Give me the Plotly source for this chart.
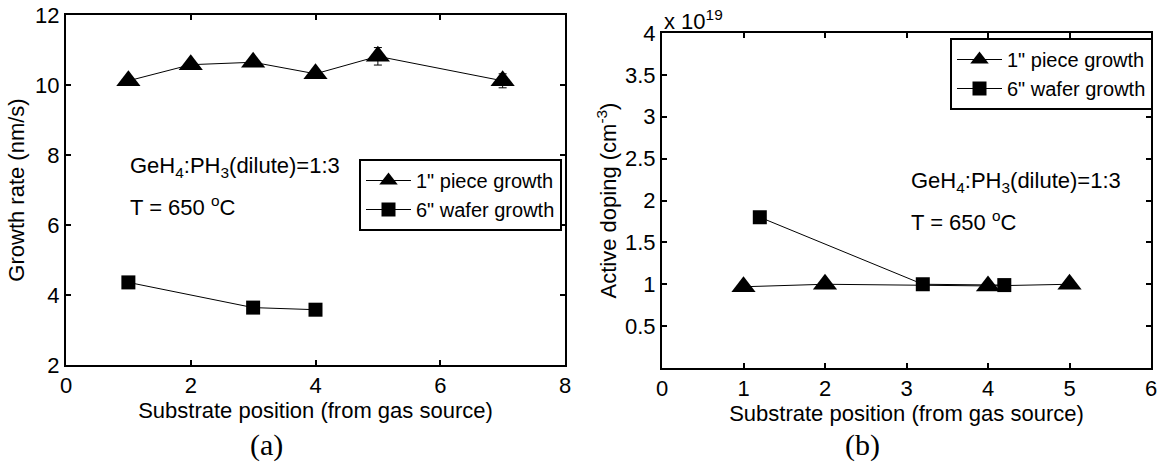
import plotly.graph_objects as go

# ---- data ----
# (a) growth rate (nm/s)
piece_pos_a = [1, 2, 3, 4, 5, 7]
piece_rate_a = [10.12, 10.58, 10.65, 10.32, 10.82, 10.12]
piece_rate_err_a = [0.0, 0.0, 0.0, 0.0, 0.25, 0.2]
wafer_pos_a = [1, 3, 4]
wafer_rate_a = [4.36, 3.64, 3.58]

# (b) active doping (x 1e19 cm^-3)
piece_pos_b = [1, 2, 4, 5]
piece_dop_b = [0.97, 1.0, 0.98, 1.0]
wafer_pos_b = [1.2, 3.2, 4.2]
wafer_dop_b = [1.8, 1.0, 0.99]

xticks_a = [0, 2, 4, 6, 8]
yticks_a = [2, 4, 6, 8, 10, 12]
xticks_b = [0, 1, 2, 3, 4, 5, 6]
yticks_b = [0.5, 1, 1.5, 2, 2.5, 3, 3.5, 4]

FONT = "Liberation Sans, Arial, Helvetica, sans-serif"
W, H = 1158, 469

def px(x):
    return x / W

def py(y):
    return (H - y) / H

fig = go.Figure()

line_style = dict(color="black", width=1)
tri = dict(symbol="triangle-up", size=21, color="black")
sq = dict(symbol="square", size=14, color="black")

fig.add_trace(go.Scatter(x=piece_pos_a, y=piece_rate_a, mode="lines+markers",
                         name='1" piece growth', line=line_style, marker=tri,
                         error_y=dict(type="data", array=piece_rate_err_a, color="black",
                                      thickness=1, width=4),
                         xaxis="x", yaxis="y", legend="legend"))
fig.add_trace(go.Scatter(x=wafer_pos_a, y=wafer_rate_a, mode="lines+markers",
                         name='6" wafer growth', line=line_style, marker=sq,
                         xaxis="x", yaxis="y", legend="legend"))
fig.add_trace(go.Scatter(x=piece_pos_b, y=piece_dop_b, mode="lines+markers",
                         name='1" piece growth', line=line_style, marker=tri,
                         xaxis="x2", yaxis="y2", legend="legend2"))
fig.add_trace(go.Scatter(x=wafer_pos_b, y=wafer_dop_b, mode="lines+markers",
                         name='6" wafer growth', line=line_style, marker=sq,
                         xaxis="x2", yaxis="y2", legend="legend2"))

axis_common = dict(showline=True, linecolor="black", linewidth=2, mirror="ticks",
                   ticks="inside", ticklen=5, tickwidth=1.5, tickcolor="black",
                   showgrid=False, zeroline=False, automargin=False,
                   tickfont=dict(family=FONT, size=22, color="black"))

fig.update_layout(
    width=W, height=H,
    autosize=False,
    margin=dict(l=0, r=0, t=0, b=0, pad=0, autoexpand=False),
    paper_bgcolor="white", plot_bgcolor="white",
    font=dict(family=FONT, size=22, color="black"),
    xaxis=dict(domain=[px(66), px(565)], range=[0, 8], tickvals=xticks_a,
               title=dict(text="Substrate position (from gas source)", standoff=3,
                          font=dict(family=FONT, size=22)),
               anchor="y", **axis_common),
    yaxis=dict(domain=[py(365), py(15)], range=[2, 12], tickvals=yticks_a,
               title=dict(text="Growth rate (nm/s)", standoff=4,
                          font=dict(family=FONT, size=22)),
               anchor="x", **axis_common),
    xaxis2=dict(domain=[px(662), px(1151)], range=[0, 6], tickvals=xticks_b,
                title=dict(text="Substrate position (from gas source)", standoff=3,
                           font=dict(family=FONT, size=22)),
                anchor="y2", **axis_common),
    yaxis2=dict(domain=[py(368), py(33)], range=[0, 4], tickvals=yticks_b,
                ticktext=[str(v) for v in yticks_b],
                title=dict(text="Active doping (cm<sup>-3</sup>)", standoff=2,
                           font=dict(family=FONT, size=22)),
                anchor="x2", **axis_common),
    legend=dict(x=px(359), y=py(159), xanchor="left", yanchor="top",
                bgcolor="white", bordercolor="black", borderwidth=2,
                font=dict(family=FONT, size=20, color="black"),
                tracegroupgap=0, itemwidth=45),
    legend2=dict(x=px(950), y=py(38), xanchor="left", yanchor="top",
                 bgcolor="white", bordercolor="black", borderwidth=2,
                 font=dict(family=FONT, size=20, color="black"),
                 tracegroupgap=0, itemwidth=45),
    showlegend=True,
)

ann_font = dict(family=FONT, size=22, color="black")
annotations = [
    dict(text="GeH<sub>4</sub>:PH<sub>3</sub>(dilute)=1:3", x=px(128), y=py(167),
         xanchor="left", yanchor="middle", font=ann_font),
    dict(text="T = 650 <sup>o</sup>C", x=px(128), y=py(206),
         xanchor="left", yanchor="middle", font=ann_font),
    dict(text="GeH<sub>4</sub>:PH<sub>3</sub>(dilute)=1:3", x=px(909), y=py(182),
         xanchor="left", yanchor="middle", font=ann_font),
    dict(text="T = 650 <sup>o</sup>C", x=px(909), y=py(221),
         xanchor="left", yanchor="middle", font=ann_font),
    dict(text="x 10<sup>19</sup>", x=px(662), y=py(20),
         xanchor="left", yanchor="middle", font=ann_font),
    dict(text="(a)", x=px(266), y=py(445), xanchor="center", yanchor="middle",
         font=dict(family="Liberation Serif, DejaVu Serif, serif", size=30, color="black")),
    dict(text="(b)", x=px(862), y=py(445), xanchor="center", yanchor="middle",
         font=dict(family="Liberation Serif, DejaVu Serif, serif", size=30, color="black")),
]
for a in annotations:
    a.update(xref="paper", yref="paper", showarrow=False)
fig.update_layout(annotations=annotations)

fig.write_html("out.html",
               post_script="document.body.style.margin='0px';"
                           "document.body.style.overflow='hidden';")
